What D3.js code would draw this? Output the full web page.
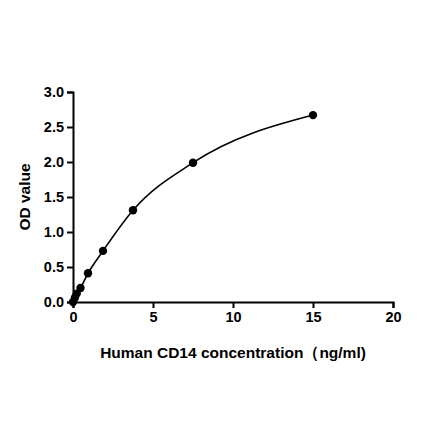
<html>
<head>
<meta charset="utf-8">
<script src="https://d3js.org/d3.v7.min.js"></script>
<style>
body{margin:0;background:#fff;}
text{font-family:"Liberation Sans",Arial,sans-serif;font-weight:bold;}
</style>
</head>
<body>
<svg id="chart" width="440" height="441"></svg>
<script>
var conc = [0, 0.117, 0.234, 0.469, 0.938, 1.875, 3.75, 7.5, 15];
var od = [0.0, 0.06, 0.12, 0.2, 0.41, 0.73, 1.31, 1.99, 2.67];
var xTicks = [0, 5, 10, 15, 20];
var yTicks = [0, 0.5, 1.0, 1.5, 2.0, 2.5, 3.0];

var svg = d3.select("#chart");
var x = d3.scaleLinear().domain([0, 20]).range([73, 393]);
var y = d3.scaleLinear().domain([0, 3]).range([302, 92]);

var xa = svg.append("g").attr("transform", "translate(0,302)")
  .call(d3.axisBottom(x).tickValues(xTicks).tickSize(6).tickPadding(4).tickFormat(d3.format("d")));
var ya = svg.append("g").attr("transform", "translate(73,0)")
  .call(d3.axisLeft(y).tickValues(yTicks).tickSize(6).tickPadding(3).tickFormat(d3.format(".1f")));
[xa, ya].forEach(function(a){
  a.selectAll("path").attr("stroke", "#000").attr("stroke-width", 2);
  a.selectAll("line").attr("stroke", "#000").attr("stroke-width", 2);
  a.selectAll("text").attr("font-size", 14.5).attr("fill", "#000")
    .style("font-family", "Liberation Sans, Arial, sans-serif").style("font-weight", "bold");
});

var line = d3.line().x(function(d){ return x(d[0]); }).y(function(d){ return y(d[1]); })
  .curve(d3.curveMonotoneX);
var pts = conc.map(function(c, i){ return [c, od[i]]; });
svg.append("path").datum(pts).attr("d", line).attr("fill", "none")
  .attr("stroke", "#000").attr("stroke-width", 1.6);
svg.selectAll("circle.p").data(pts).enter().append("circle")
  .attr("cx", function(d){ return x(d[0]); }).attr("cy", function(d){ return y(d[1]); })
  .attr("r", 4.2).attr("fill", "#000");

svg.append("text").attr("x", 233).attr("y", 358).attr("text-anchor", "middle")
  .attr("font-size", 15.5).text("Human CD14 concentration\uff08ng/ml)");
svg.append("text").attr("transform", "translate(30,197) rotate(-90)").attr("text-anchor", "middle")
  .attr("font-size", 15.5).text("OD value");
</script>
</body>
</html>
